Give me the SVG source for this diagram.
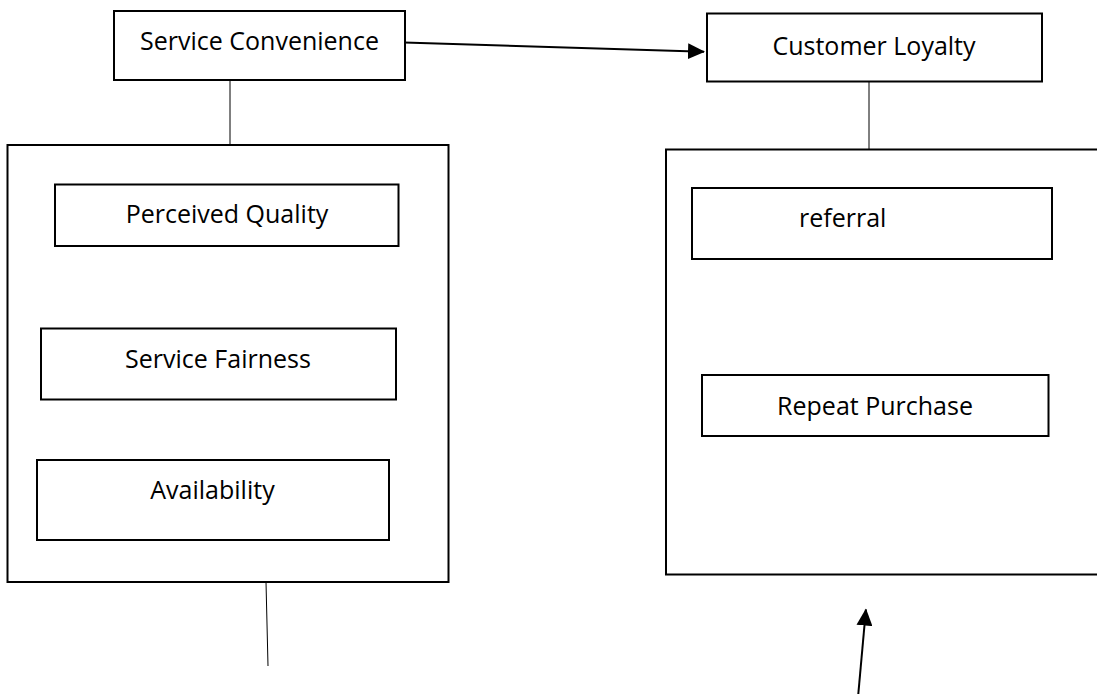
<svg xmlns="http://www.w3.org/2000/svg" width="1097" height="699" viewBox="0 0 1097 699">
  <style>
    .box { fill: #ffffff; stroke: #000000; stroke-width: 2; }
    .frame { fill: none; stroke: #000000; stroke-width: 2; }
    .label { font-family: "Open Sans", "Noto Sans", "Liberation Sans", sans-serif; font-size: 25px; fill: #000000; }
    .mid { text-anchor: middle; }
    .link { stroke: #000000; stroke-width: 1; fill: none; }
    .arrow { stroke: #000000; stroke-width: 2; fill: none; }
  </style>
  <defs>
    <marker id="head" markerUnits="userSpaceOnUse" markerWidth="17" markerHeight="16" refX="16" refY="8" orient="auto">
      <path d="M0,0 L17,8 L0,16 z" fill="#000000"/>
    </marker>
  </defs>
  <rect width="1097" height="699" fill="#ffffff"/>

  <!-- connectors -->
  <g id="connectors">
    <line class="link" x1="230" y1="80" x2="230" y2="145"/>
    <line class="link" x1="869" y1="82" x2="869" y2="149"/>
    <line class="link" x1="266" y1="582" x2="268" y2="666"/>
    <line class="arrow" x1="396" y1="42.3" x2="704" y2="51.7" marker-end="url(#head)"/>
    <line class="arrow" x1="858.3" y1="694" x2="865.9" y2="609.5" marker-end="url(#head)"/>
  </g>

  <!-- left side: service convenience and its dimensions -->
  <g id="service-convenience">
    <rect class="box" x="114" y="11" width="291" height="69"/>
    <text class="label mid" x="259.5" y="50">Service Convenience</text>
  </g>
  <g id="convenience-group">
    <rect class="frame" x="7.5" y="145" width="441" height="437"/>
  </g>
  <g id="perceived-quality">
    <rect class="box" x="55" y="184.5" width="343.5" height="61.5"/>
    <text class="label mid" x="227" y="223">Perceived Quality</text>
  </g>
  <g id="service-fairness">
    <rect class="box" x="41" y="328.5" width="355" height="71"/>
    <text class="label mid" x="218" y="368">Service Fairness</text>
  </g>
  <g id="availability">
    <rect class="box" x="37" y="460" width="352" height="80"/>
    <text class="label mid" x="212.5" y="499">Availability</text>
  </g>

  <!-- right side: customer loyalty and its dimensions -->
  <g id="customer-loyalty">
    <rect class="box" x="707" y="13.5" width="335" height="68"/>
    <text class="label mid" x="874" y="54.5">Customer Loyalty</text>
  </g>
  <g id="loyalty-group">
    <rect class="frame" x="666" y="149.5" width="440" height="425"/>
  </g>
  <g id="referral">
    <rect class="box" x="692" y="188" width="360" height="71"/>
    <text class="label" x="799" y="227">referral</text>
  </g>
  <g id="repeat-purchase">
    <rect class="box" x="702" y="375" width="346.5" height="61"/>
    <text class="label mid" x="875" y="415">Repeat Purchase</text>
  </g>
</svg>
